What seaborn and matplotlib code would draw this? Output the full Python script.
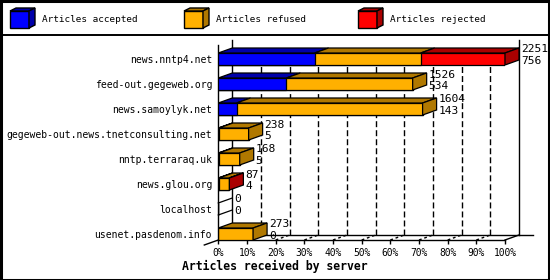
import numpy as np
import pandas as pd
import matplotlib
matplotlib.use("Agg")
import matplotlib.pyplot as plt
import seaborn as sns
from matplotlib.patches import Polygon, Rectangle
from matplotlib.lines import Line2D

# ---------------- data ----------------
servers = ["news.nntp4.net", "feed-out.gegeweb.org", "news.samoylyk.net",
           "gegeweb-out.news.tnetconsulting.net", "nntp.terraraq.uk",
           "news.glou.org", "localhost", "usenet.pasdenom.info"]
received = [2251, 1526, 1604, 238, 168, 87, 0, 273]
accepted = [756, 534, 143, 5, 5, 4, 0, 0]
rejected = [662, 0, 0, 0, 0, 1, 0, 0]
series_names = ["Articles accepted", "Articles refused", "Articles rejected"]
tick_values = list(range(0, 101, 10))
tick_labels = [f"{v}%" for v in tick_values]
x_label = "Articles received by server"

front_colors = ["#0000ff", "#ffb000", "#ff0000"]
dark_colors = ["#0000aa", "#b07800", "#aa0000"]

# ---------------- derived table ----------------
rec = np.array(received, float)
acc = np.array(accepted, float)
rej = np.array(rejected, float)
ref = rec - acc - rej
scale = 100.0 / rec.max()
df = pd.DataFrame({
    "server": servers,
    "end_acc": acc * scale,
    "end_ref": (acc + ref) * scale,
    "end_rej": rec * scale,
})

# ---------------- layout ----------------
W, H = 550, 280
MONO = ["DejaVu Sans Mono"]
plt.rcParams["font.family"] = MONO

fig = plt.figure(figsize=(W / 100, H / 100), dpi=100)
fig.patch.set_facecolor("white")

ax_l, ax_r, ax_t, ax_b = 218.3, 505.0, 45.0, 240.0
ax = fig.add_axes([ax_l / W, 1 - ax_b / H, (ax_r - ax_l) / W, (ax_b - ax_t) / H])
ax.set_facecolor("none")

bar_h = 0.48
depth_px_x, depth_px_y = 14.0, 5.0
row_px = 25.0
DX = depth_px_x * 100.0 / (ax_r - ax_l)
DY = depth_px_y / row_px
y_top_lim = -(59 - ax_t) / row_px
y_bot_lim = (ax_b - 59) / row_px

# front faces (layered stacked bars)
for col, color in [("end_rej", front_colors[2]), ("end_ref", front_colors[1]),
                   ("end_acc", front_colors[0])]:
    sns.barplot(data=df, y="server", x=col, order=servers, orient="h",
                color=color, saturation=1, width=bar_h, edgecolor="black",
                linewidth=0.9, errorbar=None, ax=ax, zorder=4)

ax.set_xlim(0, 100)
ax.set_ylim(y_bot_lim, y_top_lim)

# back wall / floor
back_floor = y_bot_lim - DY
back_top = y_top_lim - DY
line_kw = dict(color="black", lw=1, clip_on=False, zorder=2)
ax.add_line(Line2D([DX, DX], [back_floor, back_top], **line_kw))
ax.add_line(Line2D([100 + DX, 100 + DX], [back_floor, back_top], **line_kw))
ax.add_line(Line2D([DX, 100 + 2 * DX], [back_floor, back_floor], **line_kw))
ax.add_line(Line2D([100, 100 + DX], [y_bot_lim, back_floor], **line_kw))
ax.add_line(Line2D([-DX, 0], [y_bot_lim + DY, y_bot_lim], **line_kw))
grid_top = -bar_h / 2 - DY
for v in tick_values[1:-1]:
    ax.add_line(Line2D([v + DX, v + DX], [back_floor, grid_top], color="black",
                       lw=1, ls=(0, (4.3, 2.2)), clip_on=False, zorder=1))
    ax.add_line(Line2D([v, v + DX], [y_bot_lim, back_floor], color="black",
                       lw=1, ls=(0, (2, 2)), clip_on=False, zorder=1))

# 3D top & side faces + value labels
for i in range(len(servers)):
    top = i - bar_h / 2
    bot = i + bar_h / 2
    bounds = [0, df.end_acc[i], df.end_ref[i], df.end_rej[i]]
    xe = bounds[-1]
    if xe == 0:
        # empty bar: only its depth edges remain
        for yy in (top, bot):
            ax.add_line(Line2D([0, DX], [yy, yy - DY], color="black", lw=0.9,
                               clip_on=False, zorder=4))
    else:
        last = 0
        for k in range(3):
            x0, x1 = bounds[k], bounds[k + 1]
            if x1 - x0 > 0:
                last = k
                ax.add_patch(Polygon([(x0, top), (x1, top), (x1 + DX, top - DY),
                                      (x0 + DX, top - DY)], closed=True,
                                     facecolor=dark_colors[k], edgecolor="black",
                                     lw=0.9, clip_on=False, zorder=4))
        ax.add_patch(Polygon([(xe, top), (xe, bot), (xe + DX, bot - DY),
                              (xe + DX, top - DY)], closed=True,
                             facecolor=dark_colors[last], edgecolor="black",
                             lw=0.9, clip_on=False, zorder=4))
    ax.annotate(str(received[i]), xy=(xe + DX, i), xytext=(2, 9.5),
                textcoords="offset pixels", ha="left", va="center",
                fontsize=8.1, annotation_clip=False, zorder=6)
    ax.annotate(str(accepted[i]), xy=(xe + DX, i), xytext=(2, -2),
                textcoords="offset pixels", ha="left", va="center",
                fontsize=8.1, annotation_clip=False, zorder=6)

# axes styling
for s in ["top", "right"]:
    ax.spines[s].set_visible(False)
for s in ["left", "bottom"]:
    ax.spines[s].set_color("black")
    ax.spines[s].set_linewidth(1)
    ax.spines[s].set_zorder(3)
ax.set_xticks(tick_values)
ax.set_xticklabels(tick_labels, fontsize=6.9)
ax.tick_params(axis="x", length=3, width=1, pad=3, color="black")
ax.tick_params(axis="y", length=0, pad=4.5, labelsize=7.0)
ax.set_xlabel("")
ax.set_ylabel("")
ax.grid(False)

fig.text(0.5, 1 - 266 / H, x_label, ha="center", va="center",
         fontsize=8.3, fontweight="bold")

# ---------------- legend (top band) ----------------
def P(x, y):
    return (x / W, 1 - y / H)

for k, name in enumerate(series_names):
    x0 = 10 + k * 174
    fw, fh, dx, dy = 19, 17, 6, 3
    y0 = 11
    fig.patches.append(Polygon([P(x0, y0), P(x0 + fw, y0), P(x0 + fw, y0 + fh),
                                P(x0, y0 + fh)], closed=True,
                               facecolor=front_colors[k], edgecolor="black",
                               lw=1, transform=fig.transFigure))
    fig.patches.append(Polygon([P(x0, y0), P(x0 + fw, y0), P(x0 + fw + dx, y0 - dy),
                                P(x0 + dx, y0 - dy)], closed=True,
                               facecolor=dark_colors[k], edgecolor="black",
                               lw=1, transform=fig.transFigure))
    fig.patches.append(Polygon([P(x0 + fw, y0), P(x0 + fw + dx, y0 - dy),
                                P(x0 + fw + dx, y0 + fh - dy), P(x0 + fw, y0 + fh)],
                               closed=True, facecolor=dark_colors[k],
                               edgecolor="black", lw=1, transform=fig.transFigure))
    fig.text((x0 + 32) / W, 1 - 20 / H, name, ha="left", va="center",
             fontsize=6.75)

# band separator and outer border
fig.add_artist(Line2D([0, 1], [1 - 35 / H, 1 - 35 / H], color="black", lw=1.4,
                      transform=fig.transFigure))
fig.patches.append(Rectangle((0.5 / W, 0.5 / H), (W - 1.5) / W, (H - 1.5) / H,
                             fill=False, edgecolor="black", lw=2.2,
                             transform=fig.transFigure))

fig.savefig("out.png", dpi=100)
